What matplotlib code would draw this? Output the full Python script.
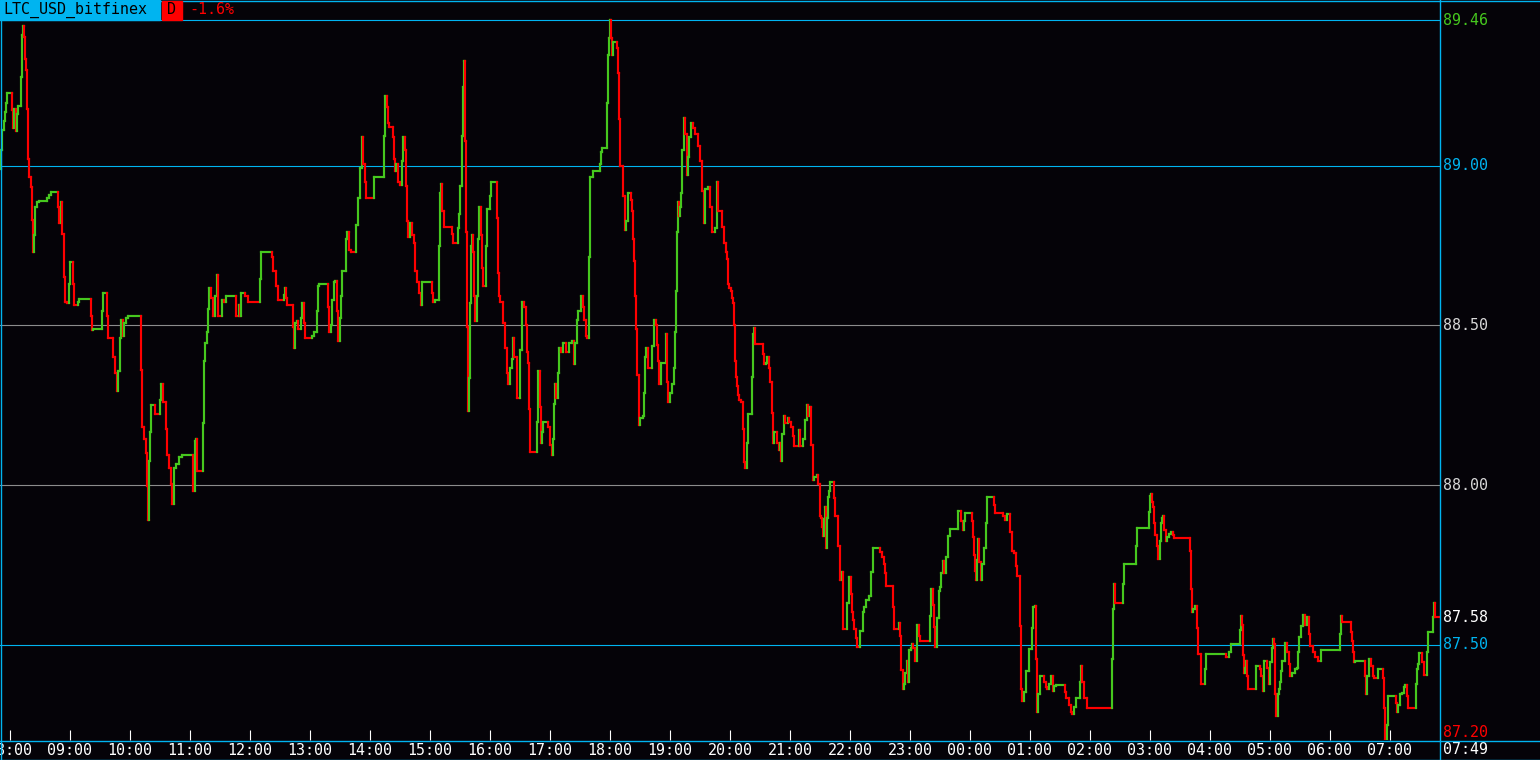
import matplotlib
matplotlib.use("Agg")
import matplotlib.pyplot as plt
import matplotlib.transforms as mtransforms
from matplotlib.collections import LineCollection
from matplotlib.lines import Line2D
from matplotlib.patches import Rectangle

# ---------------------------------------------------------------------------
# Data: LTC/USD last price, one step per change (minutes since 07:50)
# ---------------------------------------------------------------------------
minutes = [
    0, 1, 2, 4, 5, 6, 7, 12, 13, 14,
    16, 17, 18, 21, 22, 23, 24, 25, 26, 27,
    28, 29, 31, 32, 33, 34, 35, 37, 39, 47,
    49, 51, 58, 59, 61, 62, 64, 65, 67, 69,
    70, 73, 74, 78, 79, 91, 92, 93, 102, 103,
    107, 108, 113, 115, 117, 118, 120, 121, 123, 124,
    126, 128, 141, 142, 144, 146, 147, 148, 149, 150,
    151, 155, 160, 161, 163, 166, 167, 169, 171, 172,
    174, 176, 179, 182, 193, 195, 196, 197, 203, 204,
    205, 207, 208, 209, 211, 213, 215, 217, 218, 222,
    224, 226, 236, 239,
    240, 241, 245, 248, 260, 261, 272, 273, 276, 278,
    284, 285, 286, 287, 293, 294, 295, 297, 298, 301,
    302, 304, 305, 312, 314, 317, 318, 319, 328, 329,
    331, 332, 334, 335, 337, 338, 340, 341, 342, 346,
    347, 349, 351, 356, 358, 360, 362, 363, 365, 366,
    374, 384, 385, 387, 388, 389, 393, 394, 395, 396,
    398, 400, 402, 403, 405, 406, 407, 408, 410, 412,
    414, 415, 417, 419, 421, 422, 432, 433, 435, 439,
    440, 441, 442, 444, 452, 453, 458, 459, 460, 462,
    463, 464, 465, 466, 467, 468, 469, 470, 471, 472,
    473, 474, 475, 477, 478, 479,
    481, 482, 483, 486, 487, 490, 491, 497, 498, 499,
    500, 503, 505, 507, 508, 510, 512, 513, 514, 517,
    520, 522, 524, 526, 527, 528, 529, 530, 537, 538,
    540, 541, 542, 543, 548, 550, 552, 553, 554, 555,
    556, 558, 559, 561, 563, 566, 569, 572, 574, 575,
    577, 578, 581, 583, 584, 586, 587, 589, 590, 593,
    600, 601, 602, 607, 608, 609, 610, 611, 612, 613,
    617, 618, 619, 620, 623, 625, 626, 628, 631, 632,
    633, 634, 635, 636, 637, 639, 640, 643, 644, 645,
    646, 648, 652, 654, 656, 657, 658, 659, 661, 666,
    667, 668, 670, 672, 674, 675, 676, 677, 678, 679,
    680, 681, 682, 684, 685, 687, 688, 689, 691, 693,
    695, 698, 700, 702, 704, 705, 708, 710, 712, 715,
    717, 718,
    722, 724, 726, 727, 728, 729, 731, 732, 733, 734,
    735, 736, 737, 738, 739, 741, 743, 744, 745, 747,
    748, 752, 753, 754, 755, 763, 764, 766, 767, 769,
    770, 772, 773, 774, 777, 779, 780, 781, 782, 784,
    785, 788, 789, 791, 793, 794, 799, 800, 803, 805,
    807, 808, 810, 811, 813, 814, 817, 818, 820, 821,
    822, 823, 824, 825, 826, 827, 828, 829, 830, 834,
    835, 838, 840, 842, 843, 847, 849, 851, 852, 853,
    854, 856, 857, 860, 863, 864, 866, 869, 871, 873,
    880, 882, 884, 885, 886, 893, 894, 899, 900, 901,
    903, 904, 905, 907, 908, 909, 911, 912, 913, 915,
    917, 919, 920, 930, 931, 933, 934, 935, 937, 939,
    940, 941, 943, 944, 946, 948, 950, 958,
    961, 963, 964, 965, 972, 973, 974, 975, 976, 977,
    978, 979, 981, 982, 984, 986, 987, 994, 995, 1003,
    1005, 1007, 1010, 1012, 1014, 1016, 1017, 1020, 1021, 1022,
    1024, 1026, 1029, 1032, 1033, 1035, 1036, 1037, 1038, 1040,
    1044, 1046, 1047, 1049, 1051, 1053, 1054, 1056, 1065, 1066,
    1069, 1071, 1072, 1074, 1076, 1080, 1081, 1082, 1084, 1087,
    1112, 1113, 1114, 1115, 1123, 1124, 1136, 1137, 1149, 1150,
    1151, 1152, 1153, 1154, 1155, 1157, 1158, 1160, 1161, 1162,
    1163, 1164, 1166, 1167, 1169, 1171, 1173, 1174, 1190, 1191,
    1192, 1193, 1195, 1197, 1198,
    1201, 1205, 1206, 1226, 1229, 1231, 1240, 1241, 1242, 1243,
    1244, 1245, 1246, 1247, 1248, 1256, 1260, 1261, 1263, 1264,
    1267, 1269, 1270, 1272, 1273, 1274, 1275, 1276, 1278, 1279,
    1280, 1281, 1282, 1285, 1287, 1289, 1290, 1292, 1295, 1297,
    1298, 1299, 1301, 1303, 1305, 1307, 1309, 1310, 1313, 1315,
    1318, 1321, 1340, 1341, 1342, 1351, 1352, 1353, 1354, 1355,
    1365, 1366, 1367, 1369, 1371, 1373, 1374, 1378, 1383, 1384,
    1385, 1387, 1388, 1396, 1397, 1398, 1400, 1402, 1404, 1405,
    1407, 1408, 1416, 1417, 1418, 1419, 1422, 1424, 1427, 1428,
    1433, 1434, 1435,
]

prices = [
    88.989, 89.050, 89.112, 89.140, 89.168, 89.196, 89.227, 89.174, 89.118, 89.179,
    89.109, 89.162, 89.189, 89.280, 89.409, 89.437, 89.403, 89.336, 89.302, 89.179,
    89.022, 88.966, 88.933, 88.832, 88.731, 88.782, 88.871, 88.888, 88.891, 88.899,
    88.910, 88.919, 88.871, 88.821, 88.888, 88.787, 88.653, 88.574, 88.569, 88.630,
    88.698, 88.630, 88.563, 88.574, 88.582, 88.530, 88.485, 88.490, 88.546, 88.602,
    88.530, 88.462, 88.401, 88.350, 88.295, 88.356, 88.462, 88.518, 88.468, 88.507,
    88.524, 88.530, 88.362, 88.183, 88.143, 88.099, 87.998, 87.891, 88.076, 88.166,
    88.250, 88.222, 88.267, 88.317, 88.261, 88.177, 88.093, 88.054, 88.003, 87.942,
    88.054, 88.065, 88.087, 88.093, 87.981, 88.138, 88.143, 88.043, 88.194, 88.390,
    88.446, 88.479, 88.552, 88.619, 88.586, 88.530, 88.591, 88.658, 88.530, 88.580,
    88.574, 88.591, 88.530, 88.563,
    88.530, 88.602, 88.591, 88.574, 88.647, 88.731, 88.714, 88.670, 88.625, 88.580,
    88.597, 88.619, 88.586, 88.563, 88.496, 88.429, 88.507, 88.513, 88.490, 88.524,
    88.569, 88.507, 88.462, 88.468, 88.479, 88.546, 88.625, 88.630, 88.558, 88.479,
    88.502, 88.580, 88.636, 88.639, 88.546, 88.451, 88.524, 88.591, 88.670, 88.770,
    88.793, 88.737, 88.731, 88.815, 88.899, 88.994, 89.090, 89.006, 88.950, 88.899,
    88.966, 89.095, 89.218, 89.185, 89.134, 89.121, 89.090, 89.022, 88.983, 89.006,
    88.950, 88.941, 89.017, 89.090, 89.050, 88.938, 88.826, 88.776, 88.821, 88.782,
    88.759, 88.670, 88.636, 88.602, 88.563, 88.636, 88.602, 88.574, 88.580, 88.748,
    88.916, 88.944, 88.860, 88.810, 88.787, 88.759, 88.804, 88.849, 88.938, 89.095,
    89.246, 89.328, 89.078, 88.793, 88.496, 88.233, 88.334, 88.569, 88.748, 88.782,
    88.731, 88.591, 88.513, 88.591, 88.770, 88.871,
    88.782, 88.681, 88.625, 88.748, 88.866, 88.905, 88.950, 88.838, 88.664, 88.591,
    88.574, 88.507, 88.429, 88.350, 88.317, 88.367, 88.395, 88.462, 88.401, 88.272,
    88.423, 88.574, 88.558, 88.502, 88.418, 88.384, 88.239, 88.104, 88.199, 88.356,
    88.244, 88.132, 88.166, 88.199, 88.183, 88.127, 88.093, 88.143, 88.255, 88.317,
    88.272, 88.350, 88.429, 88.418, 88.446, 88.418, 88.446, 88.451, 88.379, 88.446,
    88.518, 88.546, 88.591, 88.558, 88.518, 88.468, 88.462, 88.714, 88.966, 88.983,
    89.006, 89.045, 89.056, 89.196, 89.347, 89.400, 89.456, 89.400, 89.347, 89.389,
    89.370, 89.291, 89.146, 89.000, 88.905, 88.798, 88.826, 88.916, 88.894, 88.860,
    88.770, 88.703, 88.591, 88.490, 88.345, 88.188, 88.211, 88.216, 88.289, 88.401,
    88.429, 88.367, 88.435, 88.518, 88.502, 88.440, 88.390, 88.317, 88.384, 88.474,
    88.323, 88.261, 88.289, 88.317, 88.367, 88.479, 88.608, 88.793, 88.888, 88.843,
    88.871, 88.916, 89.050, 89.151, 89.101, 88.972, 89.028, 89.090, 89.134, 89.118,
    89.101, 89.062, 89.017, 88.922, 88.821, 88.927, 88.933, 88.871, 88.793, 88.804,
    88.950, 88.860,
    88.810, 88.759, 88.731, 88.709, 88.630, 88.619, 88.608, 88.586, 88.569, 88.502,
    88.390, 88.339, 88.311, 88.283, 88.267, 88.261, 88.177, 88.071, 88.054, 88.132,
    88.222, 88.339, 88.474, 88.491, 88.442, 88.412, 88.379, 88.384, 88.401, 88.367,
    88.323, 88.227, 88.132, 88.166, 88.132, 88.110, 88.132, 88.076, 88.160, 88.216,
    88.194, 88.211, 88.199, 88.183, 88.155, 88.121, 88.171, 88.121, 88.143, 88.205,
    88.250, 88.216, 88.244, 88.127, 88.015, 88.026, 88.031, 88.004, 87.903, 87.897,
    87.869, 87.841, 87.892, 87.931, 87.802, 87.897, 87.964, 87.981, 88.009, 87.959,
    87.903, 87.808, 87.701, 87.729, 87.550, 87.629, 87.713, 87.657, 87.601, 87.578,
    87.550, 87.522, 87.494, 87.544, 87.601, 87.617, 87.640, 87.651, 87.729, 87.804,
    87.791, 87.774, 87.752, 87.724, 87.684, 87.617, 87.550, 87.567, 87.528, 87.421,
    87.360, 87.377, 87.410, 87.450, 87.383, 87.484, 87.490, 87.501, 87.490, 87.450,
    87.562, 87.528, 87.511, 87.589, 87.673, 87.623, 87.556, 87.494, 87.584, 87.668,
    87.679, 87.724, 87.763, 87.724, 87.774, 87.841, 87.863, 87.920,
    87.887, 87.859, 87.887, 87.913, 87.887, 87.837, 87.781, 87.730, 87.702, 87.764,
    87.831, 87.759, 87.702, 87.752, 87.803, 87.881, 87.963, 87.937, 87.911, 87.904,
    87.889, 87.910, 87.853, 87.792, 87.786, 87.747, 87.714, 87.557, 87.360, 87.322,
    87.350, 87.417, 87.485, 87.551, 87.619, 87.622, 87.456, 87.288, 87.344, 87.400,
    87.383, 87.366, 87.361, 87.378, 87.400, 87.355, 87.369, 87.374, 87.350, 87.333,
    87.310, 87.288, 87.282, 87.305, 87.333, 87.383, 87.433, 87.383, 87.333, 87.302,
    87.456, 87.613, 87.691, 87.630, 87.691, 87.752, 87.808, 87.864, 87.915, 87.965,
    87.971, 87.948, 87.932, 87.881, 87.842, 87.808, 87.769, 87.825, 87.881, 87.898,
    87.904, 87.859, 87.825, 87.836, 87.848, 87.853, 87.842, 87.833, 87.792, 87.674,
    87.601, 87.613, 87.620, 87.551, 87.472,
    87.377, 87.422, 87.472, 87.461, 87.478, 87.501, 87.545, 87.590, 87.562, 87.467,
    87.411, 87.428, 87.450, 87.400, 87.361, 87.433, 87.422, 87.400, 87.355, 87.450,
    87.428, 87.378, 87.445, 87.489, 87.517, 87.501, 87.344, 87.277, 87.344, 87.361,
    87.383, 87.417, 87.450, 87.506, 87.478, 87.439, 87.400, 87.411, 87.422, 87.428,
    87.478, 87.523, 87.557, 87.592, 87.562, 87.585, 87.534, 87.495, 87.478, 87.461,
    87.450, 87.484, 87.534, 87.590, 87.571, 87.540, 87.512, 87.478, 87.445, 87.450,
    87.400, 87.344, 87.400, 87.456, 87.433, 87.400, 87.395, 87.422, 87.395, 87.300,
    87.200, 87.249, 87.339, 87.317, 87.288, 87.310, 87.344, 87.349, 87.366, 87.374,
    87.339, 87.300, 87.378, 87.422, 87.439, 87.473, 87.445, 87.406, 87.478, 87.540,
    87.585, 87.629, 87.585,
]

SYMBOL = "LTC_USD_bitfinex"
PERIOD = "D"
CHANGE = "-1.6%"
SESSION_MINUTES = 1440          # 07:50 -> 07:49 next day
FIRST_HOUR = 8                  # first full hour on the axis
FIRST_HOUR_OFFSET = 10          # minutes from 07:50 to 08:00
END_LABEL = "07:49"
GRID_LEVELS = [89.00, 88.50, 88.00, 87.50]

assert len(minutes) == len(prices)

# ---------------------------------------------------------------------------
# Style
# ---------------------------------------------------------------------------
BG = "#050308"
CYAN = "#00b4f0"
GREEN = "#46c81e"
RED = "#ff0000"
GRAY = "#8c8c8c"
LEVEL_COLORS = [CYAN, GRAY, GRAY, CYAN]
LABEL_COLORS = [CYAN, "#d8d8d8", "#d8d8d8", CYAN]
FONT = "DejaVu Sans Mono"
FS = 10.8
THIN = 0.8

plt.rcParams["font.family"] = FONT

W, H = 1540, 760
fig = plt.figure(figsize=(W / 100, H / 100), dpi=100, facecolor=BG)
ax = fig.add_axes([0, 20 / H, 1440 / W, 740 / H])
ax.set_facecolor(BG)
ax.set_xlim(0, SESSION_MINUTES)
ax.set_ylim(87.201, 89.520)
for sp in ax.spines.values():
    sp.set_visible(False)

# horizontal price levels
for lvl, col in zip(GRID_LEVELS, LEVEL_COLORS):
    ax.axhline(lvl, color=col, lw=THIN, zorder=1)
hi, lo, last = max(prices), min(prices), prices[-1]
ax.axhline(hi, color=CYAN, lw=THIN, zorder=1)

# step line, green on up-ticks and red on down-ticks
segs, cols = [], []
for i in range(len(minutes)):
    t0 = minutes[i]
    t1 = minutes[i + 1] if i + 1 < len(minutes) else SESSION_MINUTES
    if i == 0:
        up = True
    else:
        up = prices[i] >= prices[i - 1]
        segs.append([(t0, prices[i - 1]), (t0, prices[i])])
        cols.append(GREEN if up else RED)
    segs.append([(t0, prices[i]), (t1, prices[i])])
    cols.append(GREEN if up else RED)
lc = LineCollection(segs, colors=cols, linewidths=1.55, capstyle="projecting",
                    zorder=3)
ax.add_collection(lc)

# time axis
hour_ticks = [FIRST_HOUR_OFFSET + 60 * k for k in range(24)]
hour_labels = [f"{(FIRST_HOUR + k) % 24:02d}:00" for k in range(24)]
ax.set_xticks(hour_ticks)
ax.set_xticklabels(hour_labels)
ax.set_yticks([])
ax.tick_params(axis="x", direction="in", length=7.2, width=THIN, color="white",
               labelcolor="white", labelsize=FS, pad=2.5)

# right-hand price labels
tr = mtransforms.blended_transform_factory(ax.transAxes, ax.transData)
xr = 1443 / 1440
for lvl, col in zip(GRID_LEVELS, LABEL_COLORS):
    ax.text(xr, lvl, f"{lvl:.2f}", color=col, fontsize=FS, va="center",
            ha="left", transform=tr)
ax.text(xr, hi, f"{hi:.2f}", color=GREEN, fontsize=FS, va="center",
        ha="left", transform=tr)
ax.text(xr, last, f"{last:.2f}", color="white", fontsize=FS, va="center",
        ha="left", transform=tr)
ax.text(xr, lo, f"{lo:.2f}", color=RED, fontsize=FS, va="bottom",
        ha="left", transform=tr)
ax.text(xr, -10 / 740, END_LABEL, color="white", fontsize=FS, va="center",
        ha="left", transform=ax.transAxes)


# frame lines and header in pixel coordinates
def fx(px):
    return px / W


def fy(py):
    return 1 - py / H


def pline(x0, y0, x1, y1):
    fig.add_artist(Line2D([fx(x0), fx(x1)], [fy(y0), fy(y1)], color=CYAN,
                          lw=1.0, zorder=5))


pline(0, 0.5, W, 0.5)
pline(0, 740.5, W, 740.5)
pline(0, 759.5, W, 759.5)
pline(1, 0, 1, H)
pline(1440, 0, 1440, H)

fig.add_artist(Rectangle((fx(0), fy(20)), fx(160), 20 / H, color=CYAN,
                         zorder=6, transform=fig.transFigure))
fig.add_artist(Rectangle((fx(162), fy(20)), fx(20), 19 / H, color=RED,
                         zorder=6, transform=fig.transFigure))
fig.text(fx(3), fy(10), SYMBOL, color="black", fontsize=FS, va="center",
         ha="left", zorder=7)
fig.text(fx(172), fy(10), PERIOD, color="black", fontsize=FS, va="center",
         ha="center", zorder=7)
fig.text(fx(189), fy(10), CHANGE, color=RED, fontsize=FS, va="center",
         ha="left", zorder=7)

fig.savefig("out.png", dpi=100, facecolor=BG)
